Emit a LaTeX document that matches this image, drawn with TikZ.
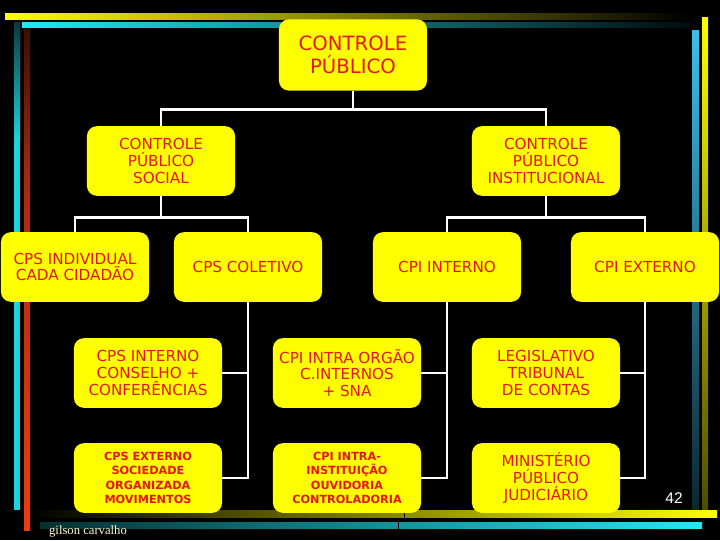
\documentclass[tikz,border=0pt]{standalone}
\usepackage{fontspec}
\setmainfont{DejaVu Sans}
\newfontfamily\serifa{Liberation Serif}
\newfontfamily\sansa{Liberation Sans}
\definecolor{amarelo}{RGB}{255,255,0}
\definecolor{vermelho}{RGB}{228,22,22}
\definecolor{ciano}{RGB}{30,235,245}
\definecolor{azul}{RGB}{60,190,235}
\definecolor{tijolo}{RGB}{235,60,20}
\definecolor{creme}{RGB}{255,255,205}

\begin{document}
\begin{tikzpicture}[x=0.025cm, y=-0.025cm,
    caixa/.style={fill=amarelo, rounded corners=7pt, minimum width=3.7cm, minimum height=1.74cm, align=center, inner sep=1pt, text=vermelho, font=\fontsize{10.8}{12}\selectfont},
    miuda/.style={caixa, font=\bfseries\fontsize{8}{10.3}\selectfont},
    linha/.style={draw=white, line width=2pt}]
    \useasboundingbox (0,0) rectangle (720,540);
    \fill[black] (0,0) rectangle (720,540);

    % Frame
    \shade[left color=amarelo, middle color=amarelo!80!black, right color=black] (5,13) rectangle (692,19);
    \shade[left color=ciano, middle color=ciano!55!black, right color=ciano!5!black] (22,22) rectangle (690,27);
    \shade[top color=amarelo, middle color=amarelo!85!black, bottom color=amarelo!30!black] (702,17) rectangle (708,510);
    \shade[top color=azul, middle color=azul!85!black, bottom color=azul!20!black] (692,30) rectangle (699,510);
    \shade[left color=black, middle color=amarelo!75!black, right color=amarelo] (30,510) rectangle (717,517);
    \shade[left color=ciano!20!black, middle color=ciano!70!black, right color=ciano] (40,522) rectangle (702,528);
    \shade[top color=ciano!25!black, bottom color=ciano!90!black] (14,22) rectangle (20,140);
    \fill[ciano!90!black] (14,139) rectangle (20,510);
    \shade[top color=tijolo!25!black, bottom color=tijolo!70!black] (24,29) rectangle (30,180);
    \shade[top color=tijolo!70!black, bottom color=tijolo] (24,179) rectangle (30,530);
    \draw[black, line width=0.6pt] (404,511) -- (404,518) (398,519) -- (398,530);

    % Top levels
    \node (raiz) at (353,55) [caixa, minimum height=1.78cm, font=\fontsize{14}{16.5}\selectfont] {CONTROLE\\PÚBLICO};
    \node (social) at (161,161) [caixa] {CONTROLE\\PÚBLICO\\SOCIAL};
    \node (instit) at (546,161) [caixa] {CONTROLE\\PÚBLICO\\INSTITUCIONAL};
    \draw[linha] (raiz.south) -- ++(0,19) -| (social.north);
    \draw[linha] (raiz.south) -- ++(0,19) -| (instit.north);

    % Social side
    \node (individual) at (75,267) [caixa] {CPS INDIVIDUAL\\CADA CIDADÃO};
    \node (coletivo) at (248,267) [caixa] {CPS COLETIVO};
    \node (cpsint) at (148,373) [caixa] {CPS INTERNO\\CONSELHO +\\CONFERÊNCIAS};
    \node (cpsext) at (148,478) [miuda] {CPS EXTERNO\\SOCIEDADE\\ORGANIZADA\\MOVIMENTOS};
    \draw[linha] (social.south) -- ++(0,21) -| (individual.north);
    \draw[linha] (social.south) -- ++(0,21) -| (coletivo.north);
    \draw[linha] (coletivo.south) |- (cpsint.east);
    \draw[linha] (coletivo.south) |- (cpsext.east);

    % Institutional side
    \node (cpiint) at (447,267) [caixa] {CPI INTERNO};
    \node (cpiext) at (645,267) [caixa] {CPI EXTERNO};
    \node (intraorg) at (347,373) [caixa] {CPI INTRA ORGÃO\\C.INTERNOS\\+ SNA};
    \node (intrainst) at (347,478) [miuda] {CPI INTRA-\\INSTITUIÇÃO\\OUVIDORIA\\CONTROLADORIA};
    \node (legis) at (546,373) [caixa] {LEGISLATIVO\\TRIBUNAL\\DE CONTAS};
    \node (minist) at (546,478) [caixa] {MINISTÉRIO\\PÚBLICO\\JUDICIÁRIO};
    \draw[linha] (instit.south) -- ++(0,21) -| (cpiint.north);
    \draw[linha] (instit.south) -- ++(0,21) -| (cpiext.north);
    \draw[linha] (cpiint.south) |- (intraorg.east);
    \draw[linha] (cpiint.south) |- (intrainst.east);
    \draw[linha] (cpiext.south) |- (legis.east);
    \draw[linha] (cpiext.south) |- (minist.east);

    % Footer
    \node (autor) at (88,531) [text=creme, font=\serifa\fontsize{9}{10}\selectfont] {gilson carvalho};
    \node (pagina) at (674,498) [text=white, font=\sansa\fontsize{11}{12}\selectfont] {42};
\end{tikzpicture}
\end{document}
